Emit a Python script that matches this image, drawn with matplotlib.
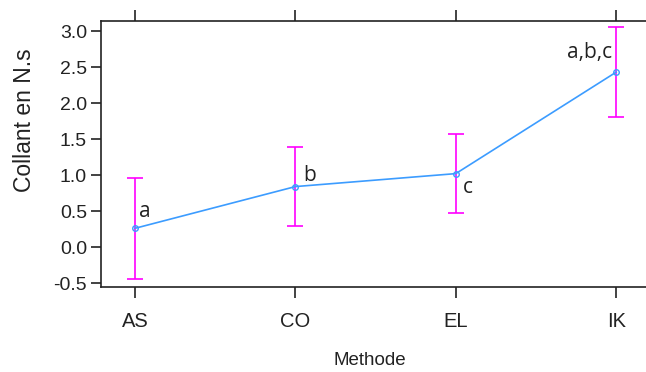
import matplotlib
matplotlib.use("Agg")
import matplotlib.pyplot as plt
import numpy as np

methods = ["AS", "CO", "EL", "IK"]
means = [0.26, 0.84, 1.02, 2.43]
err = [0.70, 0.55, 0.55, 0.62]
letters = ["a", "b", "c", "a,b,c"]
yticks = [-0.5, 0.0, 0.5, 1.0, 1.5, 2.0, 2.5, 3.0]

plt.rcParams['font.family'] = ['Liberation Sans', 'DejaVu Sans']

fig = plt.figure(figsize=(6.46, 3.72), dpi=100)
ax = fig.add_axes([0.156, 0.2285, 0.85, 0.715])

x = np.arange(1, len(methods) + 1)
ax.errorbar(x, means, yerr=err, fmt='none', ecolor='#FF00FF', elinewidth=1.2,
            capsize=6, capthick=1.2, zorder=2)
ax.plot(x, means, color='#3C9CFF', lw=1.2, marker='o', ms=4, mfc='none',
        mec='#3C9CFF', mew=1.0, zorder=3)

offsets = [(3, 12, 'left'), (6, 8, 'left'), (5, -10, 'left'), (-3, 14, 'right')]
for xi, yi, lab, (dx, dy, ha) in zip(x, means, letters, offsets):
    ax.annotate(lab, (xi, yi), xytext=(dx, dy), textcoords='offset points',
                ha=ha, va='center', fontsize=15, family=['Open Sans', 'DejaVu Sans'],
                color='#222222')

ax.set_xlim(0.787, 4.21)
ax.set_ylim(-0.555, 3.14)
ax.set_xticks(x)
ax.set_xticklabels(methods)
ax.set_yticks(yticks)
ax.set_yticklabels([f"{v:.1f}" for v in yticks])
ax.tick_params(axis='x', which='both', top=True, labeltop=False, direction='out',
               length=8, width=1.2, labelsize=14.5, pad=10, colors='#222222')
ax.tick_params(axis='y', direction='out', length=7, width=1.2, labelsize=14,
               pad=3, colors='#222222')
for s in ['left', 'top', 'bottom']:
    ax.spines[s].set_linewidth(1.2)
    ax.spines[s].set_color('#222222')
ax.spines['right'].set_visible(False)

ax.set_xlabel("Methode", fontsize=13.5, color='#222222')
ax.set_ylabel("Collant en N.s", fontsize=16.5, color='#222222')
ax.xaxis.set_label_coords(0.49, -0.244)
ax.yaxis.set_label_coords(-0.118, 0.628)

fig.savefig("out.png", dpi=100)
